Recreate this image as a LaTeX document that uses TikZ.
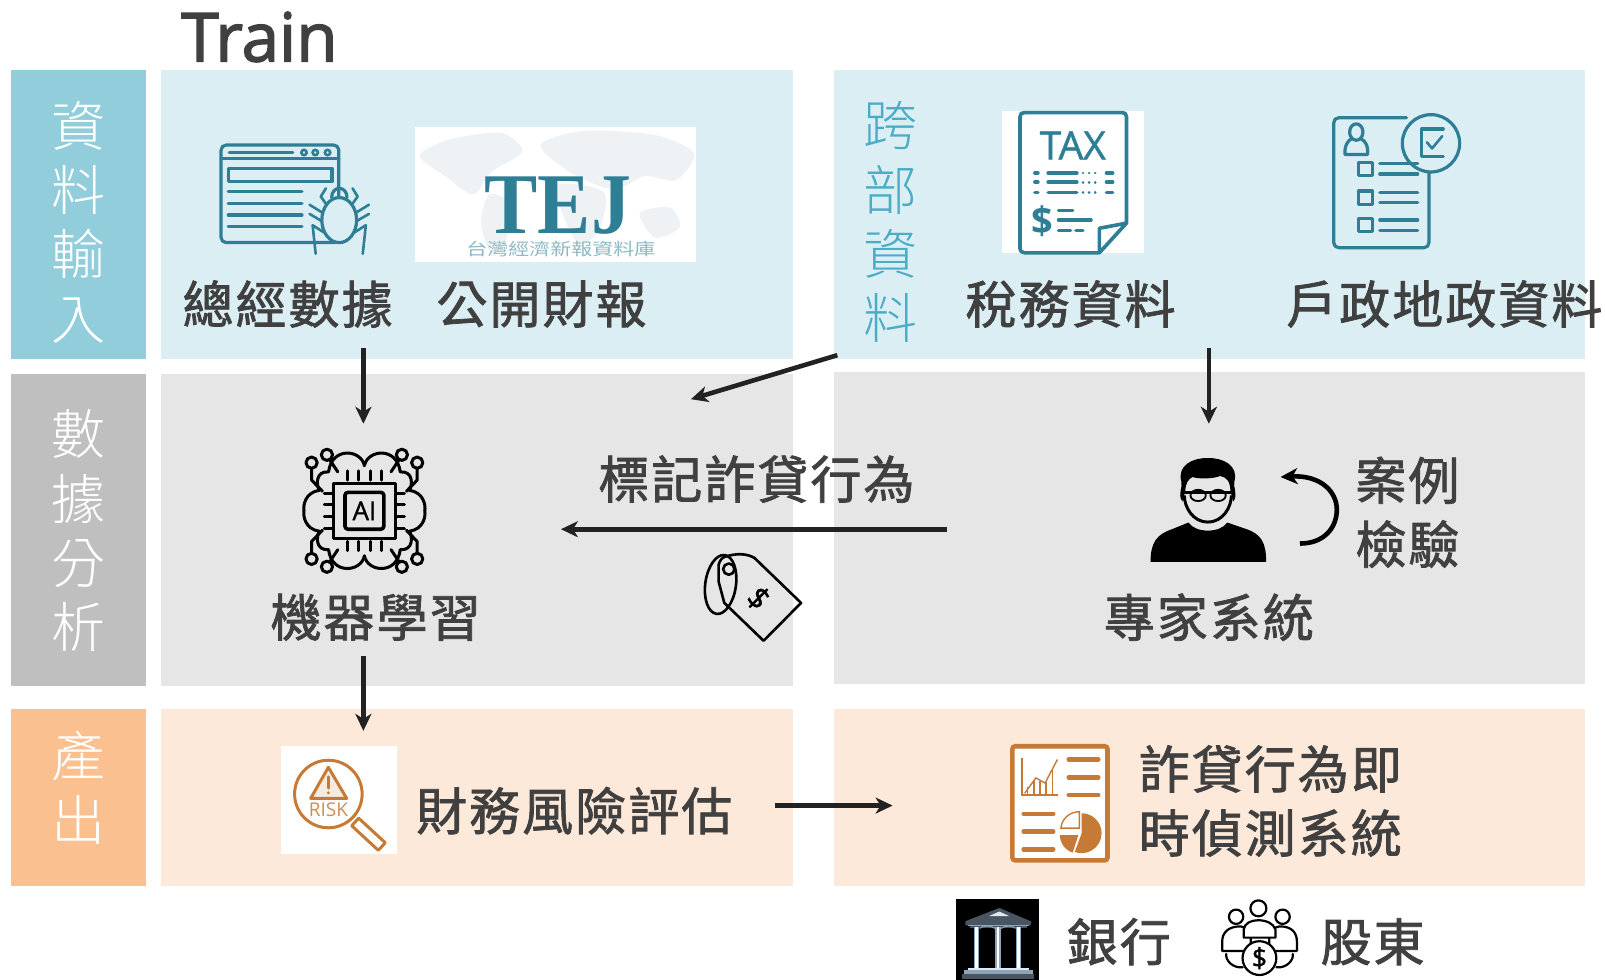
\documentclass[tikz,border=0pt]{standalone}
\usepackage{fontspec}
\usetikzlibrary{arrows.meta}
\newfontfamily\cjk[LetterSpace=4,FakeBold=1.5]{Noto Sans CJK TC}
\newfontfamily\cjkthin{Noto Sans CJK TC Light}
\newfontfamily\cjkplain{Noto Sans CJK TC}
\newfontfamily\opensans{Open Sans}
\newfontfamily\opensansfat[FakeBold=1.2]{Open Sans}
\newfontfamily\opensansheavy[FakeBold=2.2]{Open Sans}
\newfontfamily\serifb{Liberation Serif}[BoldFont=Liberation Serif Bold]
\definecolor{tc}{HTML}{404040}
\definecolor{sideB}{HTML}{92CDDC}
\definecolor{panelB}{HTML}{DBEEF4}
\definecolor{sideG}{HTML}{BFBFBF}
\definecolor{panelG}{HTML}{E6E6E6}
\definecolor{sideO}{HTML}{FAC090}
\definecolor{panelO}{HTML}{FDE9D9}
\definecolor{teal}{HTML}{2E7F96}
\definecolor{crossc}{HTML}{4BACC6}
\definecolor{rust}{HTML}{C67A36}
\definecolor{arr}{HTML}{222222}
\definecolor{mapc}{HTML}{EEF2F4}
\definecolor{roof}{HTML}{4A5562}
\definecolor{steel}{HTML}{8CA3B8}
\definecolor{sky}{HTML}{DCE8F2}
\tikzset{
 panel/.style={inner sep=0,outer sep=0,anchor=north west},
 lab/.style={inner sep=0,text=tc,font=\fontsize{51}{64}\selectfont\cjk,align=center},
 side/.style={inner sep=0,text=white,font=\fontsize{54}{64.4}\selectfont\cjkthin,align=center},
 conn/.style={draw=arr,line width=4.6pt,-{Stealth[length=17pt,width=16pt,inset=5pt]}},
 tealline/.style={draw=teal,line width=3.2pt,line cap=round,line join=round},
 rustline/.style={draw=rust,line width=3pt,line cap=round,line join=round},
 blk/.style={draw=black,line width=3pt,line cap=round,line join=round},
}
\begin{document}
\begin{tikzpicture}[x=1.0236pt,y=-1.0236pt]
\useasboundingbox (0,0) rectangle (1568,957.4);
\fill[white] (0,0) rectangle (1568,957.4);
% bands
\node[panel,fill=sideB,minimum width=135.1pt,minimum height=288.7pt] (s1) at (11,68.5) {};
\node[panel,fill=sideG,minimum width=135.1pt,minimum height=312.2pt] (s2) at (11,365) {};
\node[panel,fill=sideO,minimum width=135.1pt,minimum height=177pt] (s3) at (11,692.5) {};
\node[panel,fill=panelB,minimum width=632.6pt,minimum height=288.7pt] (p1) at (157,68.5) {};
\node[panel,fill=panelG,minimum width=632.6pt,minimum height=312.2pt] (p2) at (157,365) {};
\node[panel,fill=panelO,minimum width=632.6pt,minimum height=177pt] (p3) at (157,692.5) {};
\node[panel,fill=panelB,minimum width=751.6pt,minimum height=288.7pt] (q1) at (814.5,68.5) {};
\node[panel,fill=panelG,minimum width=751.6pt,minimum height=312.2pt] (q2) at (814.5,363) {};
\node[panel,fill=panelO,minimum width=751.6pt,minimum height=177pt] (q3) at (814.5,692.5) {};
% titles
\node[inner sep=0,anchor=base west,text=tc,font=\fontsize{67.5}{70}\selectfont\opensansheavy] (train) at (177,60) {Train};
\node[side] (t1) at (77,217) {資\\料\\輸\\入};
\node[side] (t2) at (77,518.5) {數\\據\\分\\析};
\node[side] (t3) at (77,769.5) {產\\出};
\node[side,text=crossc] (t4) at (870,217) {跨\\部\\資\\料};
\node[lab] (a1) at (281,297) {總經數據};
\node[lab] (a2) at (529,297) {公開財報};
\node[lab] (a3) at (1046,297) {稅務資料};
\node[lab] (a4) at (1411,297) {戶政地政資料};
\node[lab] (b1) at (367,603) {機器學習};
\node[lab] (b2) at (739,468) {標記詐貸行為};
\node[lab] (b3) at (1181,603) {專家系統};
\node[lab] (b4) at (1375,500.5) {案例\\檢驗};
\node[lab] (c1) at (561,792) {財務風險評估};
\node[lab] (c2) at (1241,782.5) {詐貸行為即\\時偵測系統};
\node[lab] (d1) at (1093,920) {銀行};
\node[lab] (d2) at (1341,920) {股東};
% browser + spider icon
\draw[tealline,rounded corners=5pt] (216,141.7) rectangle (331,237);
\draw[tealline] (216,154.7) -- (331,154.7);
\draw[tealline] (224,149) -- (286,149);
\foreach \x in {297,308,320} \draw[teal,line width=2.6pt] (\x,149) circle (2.6);
\draw[tealline] (223,164.5) rectangle (324.4,177.5);
\foreach \y in {187,198.7,210,221.5} \draw[tealline] (223,\y) -- (295,\y);
\draw[tealline,fill=panelB] (331.4,215) ellipse (17 and 22);
\draw[tealline] (324,193) .. controls (324,181) and (339,181) .. (339,193);
\foreach \s in {1,-1}{
 \draw[tealline,line width=2.6pt] ({331.4+\s*13},199) -- ({331.4+\s*18},192) -- ({331.4+\s*13},184);
 \draw[tealline,line width=2.6pt] ({331.4+\s*16},208) -- ({331.4+\s*29},200);
 \draw[tealline,line width=2.6pt] ({331.4+\s*17},216) -- ({331.4+\s*29},209);
 \draw[tealline,line width=2.6pt] ({331.4+\s*15},227) -- ({331.4+\s*26},220) -- ({331.4+\s*23},248);
}
% TEJ logo
\node[panel,fill=white,minimum width=281.5pt,minimum height=135.1pt] (tejbg) at (405,124) {};
\fill[mapc] plot[smooth cycle] coordinates {(410,152)(440,136)(490,130)(510,148)(480,168)(462,190)(435,172)};
\fill[mapc] plot[smooth cycle] coordinates {(478,190)(500,200)(495,232)(482,250)(470,220)};
\fill[mapc] plot[smooth cycle] coordinates {(528,142)(570,128)(640,132)(678,150)(660,176)(630,172)(600,185)(560,170)};
\fill[mapc] plot[smooth cycle] coordinates {(545,180)(590,188)(585,225)(565,238)(548,205)};
\fill[mapc] plot[smooth cycle] coordinates {(625,208)(655,203)(664,222)(640,232)};
\node[inner sep=0,text=teal,font=\fontsize{84}{60}\selectfont\serifb\bfseries,xscale=0.95,yscale=1.03] (tej) at (545,201) {TEJ};
\node[inner sep=0,text=teal!55!white,font=\fontsize{20}{20}\selectfont\cjkplain,xscale=1.05,yscale=0.85] (tejs) at (548,243.5) {台灣經濟新報資料庫};
% tax icon
\node[panel,fill=white,minimum width=141.5pt,minimum height=142.3pt] (taxbg) at (979,108) {};
\draw[tealline,line width=3.6pt] (1074,247) -- (1001,247) .. controls (998,247) and (996.5,245) .. (996.5,243) -- (996.5,114) .. controls (996.5,111) and (998,110) .. (1001,110) -- (1096,110) .. controls (1099,110) and (1100.5,111) .. (1100.5,114) -- (1100.5,218) -- (1074,247) -- (1074,223) -- (1100.5,218);
\node[inner sep=0,text=teal,font=\fontsize{39}{39}\selectfont\opensansfat] (taxt) at (1048,142) {TAX};
\foreach \y in {169,178,188}{
 \draw[tealline,line width=3.6pt] (1011,\y) -- (1014,\y);
 \draw[tealline,line width=3.6pt] (1024,\y) -- (1052,\y);
 \draw[tealline,line width=2.8pt,dash pattern=on 0.1pt off 6pt] (1058,\y) -- (1074,\y);
 \draw[tealline,line width=3.6pt] (1081,\y) -- (1087,\y);
}
\node[inner sep=0,text=teal,font=\fontsize{38}{38}\selectfont\opensans\bfseries] (taxd) at (1018,216) {\$};
\draw[tealline] (1034,206) -- (1048,206) (1034,215) -- (1066,215) (1034,225) -- (1046,225) (1051,225) -- (1058,225);
% form icon
\draw[tealline] (1374,115) -- (1308,115) .. controls (1305,115) and (1303,117) .. (1303,120) -- (1303,237) .. controls (1303,240) and (1305,242) .. (1308,242) -- (1391,242) .. controls (1394,242) and (1396,240) .. (1396,237) -- (1396,168);
\draw[tealline,fill=panelB] (1398,140) circle (28);
\draw[tealline] (1410,126) -- (1389,126) -- (1389,153) -- (1410,153);
\draw[tealline,line width=2.6pt] (1394,139) -- (1399,145) -- (1409,133);
\draw[tealline] (1325,129) ellipse (6.5 and 8);
\draw[tealline] (1314,151) .. controls (1313,142) and (1318,136) .. (1320,136) (1330,136) .. controls (1333,137) and (1337,142) .. (1336,151) -- (1314,151);
\foreach \y in {165,193,220}{
 \draw[tealline] (1327.5,\y-6.5) rectangle (1340.5,\y+6.5);
 \draw[tealline] (1348,\y-5) -- (1385,\y-5) (1348,\y+5) -- (1385,\y+5);
}
% AI icon
\begin{scope}[shift={(356,499)}]
\foreach \sx/\sy in {1/1,-1/1,1/-1,-1/-1}{
 \begin{scope}[xscale=\sx,yscale=\sy]
 \draw[blk] (0,-44) .. controls (3,-60) and (32,-63) .. (35,-38) .. controls (48,-39) and (47,-25) .. (44,-20) .. controls (58,-18) and (60,-5) .. (59,0);
 \draw[blk] (51.6,-41) -- (51.6,-30) -- (41,-19);
 \draw[blk] (34,-50) -- (26,-38);
 \draw[blk] (51.6,-47) circle (5.5);
 \draw[blk] (36.6,-54.7) circle (5.5);
 \foreach \p in {6,17}{
  \draw[blk] (\p,-30) -- (\p,-39);
  \draw[blk] (30,-\p) -- (39,-\p);
 }
 \end{scope}
}
\draw[blk,fill=panelG] (-30,-27) rectangle (30,27);
\draw[blk,line width=3.6pt,rounded corners=3pt] (-19,-18) rectangle (19,18);
\node[inner sep=0,font=\fontsize{26}{26}\selectfont\opensansfat] (ait) at (0,0) {AI};
\end{scope}
% tag
\draw[blk,line width=2.6pt] (708,544) .. controls (720,540) and (730,541) .. (737,545) -- (782.6,589) -- (746,626) -- (707.6,589) -- (702,568) -- (702,552) .. controls (703,548) and (705,545) .. (708,544);
\draw[blk,line width=2.6pt] (712,556) circle (5.5);
\draw[blk,line width=2.6pt,rotate around={-8:(704,571)}] (704,571) ellipse (15 and 29);
\node[inner sep=0,rotate=-45,font=\fontsize{31}{31}\selectfont\opensansfat,text=black] (tagd) at (741,584.5) {\$};
% person
\fill[black] (1124,549) .. controls (1124,530) and (1130,522) .. (1145,517) -- (1161,510.5) .. controls (1168,521) and (1192,521) .. (1199,510.5) -- (1218,517) .. controls (1232,522) and (1237,530) .. (1237,549) -- cycle;
\draw[black,line width=3pt,line join=round] (1157,484) .. controls (1157,495) and (1165,510) .. (1180,510) .. controls (1195,510) and (1203,495) .. (1203,484);
\fill[black] (1155,490) .. controls (1150,482) and (1156,476) .. (1154,470) .. controls (1150,455) and (1165,447) .. (1180,447.5) .. controls (1195,447) and (1210,455) .. (1206,470) .. controls (1204,476) and (1210,482) .. (1205,490) -- (1202,480) .. controls (1202,470) and (1198,466) .. (1192,465) .. controls (1185,468) and (1170,468) .. (1165,466) .. controls (1161,468) and (1158,472) .. (1158,480) -- cycle;
\draw[black,line width=1.8pt] (1170.5,484) ellipse (7.5 and 5.5) (1190,484) ellipse (7.5 and 5.5);
\draw[black,line width=2.4pt] (1157,481) -- (1203,481);
% risk icon
\node[panel,fill=white,minimum width=115.7pt,minimum height=107.5pt] (riskbg) at (275,729) {};
\draw[rustline] (320.8,775.7) circle (33);
\draw[rustline,fill=rust!15!white] (320.8,749.6) -- (303.5,780) -- (338.7,780) -- cycle;
\draw[rustline] (320.8,759) -- (320.8,770);
\fill[rust] (320.8,774.5) circle (1.6);
\node[inner sep=0,text=rust!85!white,font=\fontsize{19}{19}\selectfont\opensans] (riskt) at (320.8,791) {RISK};
\draw[rustline] (350.4,799.3) -- (376.4,823.3) -- (369.6,830.7) -- (343.6,806.7) -- cycle;
% report icon
\draw[draw=rust,fill=white,line width=4.6pt,rounded corners=3pt] (989,729) rectangle (1082,840.5);
\draw[rust,line width=1.8pt] (998.8,741) -- (998.8,776.7) -- (1034,776.7);
\draw[rust,line width=1.4pt] (1001,775) -- (1012,760) -- (1021,765) -- (1033,742);
\foreach \x/\t in {1004/769,1010/763,1016/763,1022/764,1028/752} \draw[rust,line width=1.4pt] (\x,776) -- (\x,\t);
\foreach \y in {741.8,759.4,776.7} \draw[rust,line width=4.4pt,line cap=round] (1044,\y) -- (1073,\y);
\foreach \y in {795,812.5,829.8} \draw[rust,line width=4.4pt,line cap=round] (1000,\y) -- (1029,\y);
\fill[rust] (1056.7,814) -- ++(-90:19.5) arc (-90:110:19.5) -- cycle;
\fill[rust] (1053.5,815.8) -- ++(180:18) arc (180:108:18) -- cycle;
\draw[rust,line width=1.4pt,fill=white] (1054.5,809) -- (1036.5,809) .. controls (1037,800) and (1045,793) .. (1054.5,793) -- cycle;
% bank icon
\node[panel,fill=black,minimum width=82.9pt,minimum height=80.8pt] (bankbg) at (934,878) {};
\fill[roof] (976.3,887) -- (1007,900) -- (1007,904) -- (943,904) -- (943,900) -- cycle;
\fill[sky] (976.3,890.5) -- (986,895) -- (966,895) -- cycle;
\fill[roof] (948,904) rectangle (1003,907);
\fill[steel] (946,903.5) rectangle (1005,905);
\foreach \x in {954,975,995}{
 \fill[steel] (\x-2.6,906) rectangle (\x+2.6,946);
 \fill[white] (\x-1.1,906) rectangle (\x+1.1,946);
}
\draw[steel,line width=1pt] (957,907) .. controls (960,904) and (969,904) .. (972,907);
\draw[steel,line width=1pt] (978,907) .. controls (982,904) and (989,904) .. (992,907);
\fill[sky] (946,945.5) rectangle (1005,947.5);
\fill[steel] (942,948) rectangle (1009,952);
\fill[roof] (940,952) rectangle (1010,956);
% shareholders icon
\foreach \x/\y/\r in {1207.6/895.6/7,1253/895.6/7,1229.4/887.4/7.8}{
 \draw[blk,line width=2.2pt,fill=white] (\x,\y) circle (\r);
}
\draw[blk,line width=2.2pt,fill=white] (1194,929) -- (1194,920) .. controls (1194,911) and (1200,905) .. (1212,905) -- (1222,908) -- (1222,929) -- cycle;
\draw[blk,line width=2.2pt,fill=white] (1267,929) -- (1267,920) .. controls (1267,911) and (1262,905) .. (1250,905) -- (1240,908) -- (1240,929) -- cycle;
\draw[blk,line width=2.2pt,fill=white] (1215,916) -- (1215,908) .. controls (1216,902) and (1222,899) .. (1229,899) .. controls (1237,899) and (1244,902) .. (1246,908) -- (1246,916) -- cycle;
\draw[blk,line width=2.2pt] (1198,932) .. controls (1197,938) and (1204,946) .. (1214,945);
\draw[blk,line width=2.2pt] (1263,932) .. controls (1264,938) and (1257,946) .. (1247,945);
\draw[blk,line width=2.2pt,fill=white] (1230.4,936) circle (16.5);
\node[inner sep=0,font=\fontsize{27}{27}\selectfont\opensansfat,text=black] (shd) at (1230.4,936) {\$};
% connectors
\coordinate (e1a) at (355,340); \coordinate (e1b) at (355,414);
\coordinate (e2a) at (1181,340); \coordinate (e2b) at (1181,414);
\coordinate (e3a) at (818,347); \coordinate (e3b) at (675,390);
\coordinate (e4a) at (925,517); \coordinate (e4b) at (548,517);
\coordinate (e5a) at (355,641); \coordinate (e5b) at (355,714);
\coordinate (e6a) at (757,787); \coordinate (e6b) at (872,787);
\coordinate (e7a) at (1270,531); \coordinate (e7b) at (1251,466);
\draw[conn] (e1a) -- (e1b);
\draw[conn] (e2a) -- (e2b);
\draw[conn] (e3a) -- (e3b);
\draw[conn] (e4a) -- (e4b);
\draw[conn] (e5a) -- (e5b);
\draw[conn] (e6a) -- (e6b);
\draw[conn,draw=black] (e7a) .. controls (1294,531) and (1306,515) .. (1306,498) .. controls (1306,480) and (1290,464) .. (e7b);
\end{tikzpicture}
\end{document}
